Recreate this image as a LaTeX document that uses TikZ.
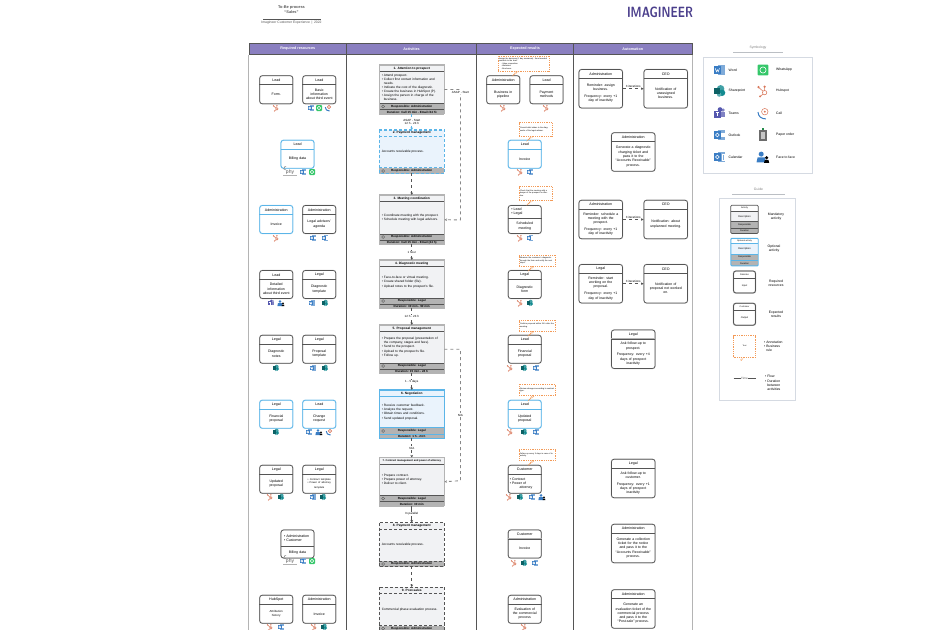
\documentclass[tikz,border=0pt]{standalone}
\usepackage{fontspec}
\setmainfont{Liberation Sans}
\usetikzlibrary{calc, positioning, arrows.meta}

\definecolor{lanepurple}{HTML}{8A7FC0}
\definecolor{logopurple}{HTML}{4B3F8C}
\definecolor{linedark}{HTML}{555555}
\definecolor{linegray}{HTML}{B4B4B4}
\definecolor{panelgray}{HTML}{D5DAE2}
\definecolor{bandgray}{HTML}{B3B3B3}
\definecolor{actfill}{HTML}{F1F2F4}
\definecolor{optblue}{HTML}{5BB5E8}
\definecolor{optfill}{HTML}{EAF3FC}
\definecolor{noteorange}{HTML}{F39A57}
\definecolor{wordblue}{HTML}{3A7DC4}
\definecolor{spteal}{HTML}{138A90}
\definecolor{hubcol}{HTML}{D9775A}
\definecolor{wagreen}{HTML}{35C76A}
\definecolor{teamcol}{HTML}{5558AF}

\tikzset{
    lanehead/.style={draw=linedark, fill=lanepurple, text=white, line width=.8pt, minimum height=11.5pt, inner sep=0pt, font=\fontsize{3.7}{4}\selectfont\bfseries},
    laneline/.style={draw=linedark, line width=.9pt},
    lanepale/.style={draw=linegray, line width=1.4pt},
    cardgray/.style={draw=linedark, line width=.7pt, preaction={draw=linegray, line width=1.3pt}},
    cardblue/.style={draw=optblue, line width=.8pt, preaction={draw=optblue!50!white, line width=1.4pt}},
    cardtitle/.style={inner sep=0pt, align=center, font=\fontsize{3.6}{4.2}\selectfont},
    cardtext/.style={inner sep=0pt, align=center, font=\fontsize{3.5}{4.3}\selectfont},
    actgray/.style={draw=linegray, line width=1.1pt},
    actblue/.style={draw=optblue, line width=1.1pt},
    actpay/.style={draw=optblue, line width=1.1pt, densely dashed},
    actdash/.style={draw=linedark, line width=.6pt, densely dashed},
    actgray fill/.style={fill=actfill},
    actblue fill/.style={fill=optfill},
    actpay fill/.style={fill=optfill},
    actdash fill/.style={fill=actfill},
    actgray sep/.style={draw=linedark, line width=.5pt},
    actblue sep/.style={draw=optblue, line width=.7pt},
    actpay sep/.style={draw=optblue, line width=.7pt, densely dashed},
    actdash sep/.style={draw=linedark, line width=.5pt, densely dashed},
    acttitle/.style={inner sep=0pt, minimum width=65pt, minimum height=6pt, font=\fontsize{3.2}{4}\selectfont\bfseries},
    acttext/.style={inner sep=0pt, text width=60pt, align=left, font=\fontsize{3.2}{4.1}\selectfont},
    actband/.style={inner sep=0pt, minimum width=65pt, fill=bandgray, font=\fontsize{3}{3.5}\selectfont\bfseries},
    flow/.style={draw=linedark, line width=.8pt, dashed, -{Stealth[length=2.6pt,width=2.6pt]}},
    flowside/.style={draw=linedark!70!white, line width=.9pt, dashed, -{Stealth[length=2.6pt,width=2.6pt]}},
    flowlabel/.style={fill=white, inner sep=.4pt, align=center, font=\fontsize{3}{3.8}\selectfont},
    notebox/.style={draw=noteorange, fill=white, line width=.8pt, densely dotted, inner sep=.8pt, align=left, font=\fontsize{2}{2.5}\selectfont},
    notetail/.style={draw=noteorange, line width=.8pt, densely dotted},
    panel/.style={draw=panelgray, line width=.9pt, fill=white},
    paneltitle/.style={text=gray, inner sep=0pt, font=\fontsize{3.4}{4}\selectfont},
    panellabel/.style={inner sep=0pt, align=center, font=\fontsize{3.4}{4.2}\selectfont},
    panelleft/.style={inner sep=0pt, align=left, font=\fontsize{3.4}{4.2}\selectfont},
    wordicon/.pic={
        \fill[wordblue!65!white] (-.8,-3) rectangle (3.2,3);
        \fill[wordblue] (-3.2,-2.2) rectangle (.8,2.2);
        \draw[white, line width=.45pt] (-2.4,-1) -- (-1.7,1) -- (-1.2,-.2) -- (-.7,1) -- (0,-1);},
    spicon/.pic={
        \fill[spteal!80!white] (.6,-1.2) circle (2.1);
        \fill[spteal] (1.4,1) circle (1.8);
        \fill[spteal!70!white] (-.2,2) circle (1.2);
        \fill[spteal!70!black] (-3,-1.6) rectangle (.4,1.6);},
    hubicon/.pic={
        \draw[hubcol, line width=.55pt] (.9,.9) circle (1.2);
        \draw[hubcol, line width=.55pt] (.9,-.3) -- (.9,-2) (0,.1) -- (-2.2,-1.8) (0,1.7) -- (-1.3,2.8);
        \fill[hubcol] (.9,-2.4) circle (.7) (-2.5,-2.1) circle (.7) (-1.6,3) circle (.6);},
    waicon/.pic={
        \fill[wagreen, rounded corners=1pt] (-3,-3) rectangle (3,3);
        \draw[white, line width=.6pt] (0,0) circle (1.7);},
    teamsicon/.pic={
        \fill[teamcol!75!white] (2,-1.9) circle (1);
        \fill[teamcol!75!white] (.4,-.8) rectangle (3.2,2);
        \fill[teamcol] (.3,-2.2) circle (1.3);
        \fill[teamcol] (-3.2,-1.6) rectangle (.8,2.4);
        \draw[white, line width=.5pt] (-2.2,-.7) -- (-.2,-.7) (-1.2,-.7) -- (-1.2,1.6);},
    callicon/.pic={
        \draw[wordblue, line width=1pt] (-2.8,-.8) .. controls (-2.6,1.6) and (-1,3) .. (1.6,3);
        \draw[hubcol, line width=.5pt, fill=white] (1,-1) circle (1.8);
        \fill[hubcol] (1,-1) circle (.6);},
    outicon/.pic={
        \fill[wordblue!65!white] (-.6,-2.8) rectangle (3.2,2.8);
        \fill[white] (.8,-1) rectangle (3,1);
        \fill[wordblue] (-3.2,-2.2) rectangle (.8,2.2);
        \draw[white, line width=.55pt] (-1.2,0) circle (1.05);},
    calicon/.pic={
        \fill[wordblue!65!white] (-.6,-3) rectangle (3.2,3);
        \fill[wordblue] (-3.2,-2.2) rectangle (.8,2.2);
        \draw[white, line width=.55pt] (-1.2,0) circle (1.05);
        \draw[white, line width=.4pt] (1.4,-1.6) rectangle (2.6,1.6);},
    papericon/.pic={
        \fill[gray!85!black] (-2,-3) rectangle (2,3.4);
        \fill[gray!45!white] (-1.2,-1.4) rectangle (1.2,2.4);
        \fill[wagreen!70!black] (-.8,-4) rectangle (.8,-3);},
    faceicon/.pic={
        \fill[wordblue] (-1,-1.6) circle (1.4);
        \fill[wordblue] (-3.6,3) -- (-3,.2) -- (1,.2) -- (1.6,3) -- cycle;
        \fill[black] (2,.4) circle (1);
        \fill[black] (.6,3.2) -- (1,1.6) -- (3,1.6) -- (3.4,3.2) -- cycle;},
}

% card with a title and a body
\newcommand{\cardcore}[9]{
    \node[#1, rounded corners=2.6pt, fill=white, minimum width=#5 pt, minimum height=#6 pt, inner sep=0pt] (#2) at (#3,#4) {};
    \node[cardtitle, anchor=north, minimum width=#5 pt, minimum height=#9 pt] (#2t) at (#2.north) {#7};
    \node[cardtext, text width=#5 pt - 3pt] (#2b) at ($(#2.center)+(0,#9/2)$) {#8};
    \draw[#1] (#2.west |- #2t.south) -- (#2.east |- #2t.south);
}
\newcommand{\rescard}[6][cardgray]{\cardcore{#1}{#2}{#3}{#4}{33}{28}{#5}{#6}{9}}
\newcommand{\autocard}[6][cardgray]{\cardcore{#1}{#2}{#3}{#4}{43.5}{38.5}{#5}{#6}{9}}

% activity with title, body, responsible and duration bands
\newcommand{\activity}[8][actgray]{
    \if\relax\detokenize{#8}\relax\def\acthigh{#5+12}\else\def\acthigh{#5+17}\fi
    \node[#1 fill, minimum width=65pt, minimum height={(\acthigh)*1pt}, inner sep=0pt, anchor=north] (#2) at (411.75,#3) {};
    \node[acttitle, anchor=north] (#2t) at (#2.north) {#4};
    \node[acttext, minimum height=#5 pt, below=0pt of #2t] (#2b) {#6};
    \node[actband, minimum height=6pt, below=0pt of #2b] (#2r) {#7};
    \draw[linedark, line width=.35pt] ([xshift=4pt]#2r.west) circle (1.5);
    \if\relax\detokenize{#8}\relax\else
        \node[actband, minimum height=5pt, below=0pt of #2r] (#2d) {#8};
        \draw[#1 sep] (#2r.south west) -- (#2r.south east);
    \fi
    \draw[#1 sep] (#2t.south west) -- (#2t.south east);
    \draw[#1 sep] (#2r.north west) -- (#2r.north east);
    \draw[#1] (#2.north west) rectangle (#2.south east);
}

% annotation with its small tail
\newcommand{\notecall}[6]{
    \node[notebox, minimum width=#4 pt, minimum height=#5 pt, text width=#4 pt - 2pt] (#1) at (#2,#3) {#6};
    \draw[notetail] ($(#1.south west)!0.36!(#1.south east)$) -- ++(-2.6,3.4) -- ++(5,-3.4);
}

\newcommand{\paylogo}[3]{
    \draw[gray, line width=.5pt] ($(#2,#3)+(-4,-2)$) arc (70:290:1.8);
    \node[inner sep=0pt, text=linedark, font=\fontsize{5}{5}\selectfont] (#1) at (#2,#3) {phy};
    \fill[gray!60!white] ($(#1.south)+(-7,.8)$) rectangle ($(#1.south)+(7,1.6)$);
}

\begin{document}
\begin{tikzpicture}[x=1pt, y=-1pt]
    \useasboundingbox (0,0) rectangle (936,629);

    % Heading
    \node[inner sep=0pt, align=center, text=linedark, font=\fontsize{3.9}{5.5}\selectfont\bfseries] (doctitle) at (291.5,9.5) {To-Be process\\``Sales''};
    \node[inner sep=0pt, text=linedark, font=\fontsize{3.4}{4}\selectfont] (docsub) at (291.5,22.5) {Imagineer Customer Experience\, |\, 2022};
    \draw[linedark, line width=.4pt] (docsub.north west) ++(2,-1.6) -- ++(58,0);
    \node[inner sep=0pt, text=logopurple] (logo) at (660,12.5) {\resizebox{66pt}{10.5pt}{\sffamily\bfseries IMAGINEER}};

    % Lanes
    \node[lanehead, minimum width=97.5pt] (laneres) at (297.75,48.75) {Required resources};
    \node[lanehead, minimum width=130pt] (laneact) at (411.5,48.75) {Activities};
    \node[lanehead, minimum width=97pt] (laneexp) at (525,48.75) {Expected results};
    \node[lanehead, minimum width=118.5pt] (laneaut) at (632.75,48.75) {Automation};
    \draw[lanepale] (laneres.south west) -- ++(0,590);
    \draw[laneline] (laneres.south east) -- ++(0,590);
    \draw[laneline] (laneact.south east) -- ++(0,590);
    \draw[laneline] (laneexp.south east) -- ++(0,590);
    \draw[lanepale] (laneaut.south east) -- ++(0,590);

    % Activities
    \activity{act1}{65}{1. Attention to prospect}{31.5}{%
        • Attend prospect.\\• Collect first contact information and\\\phantom{• }needs.\\• Indicate the cost of the diagnostic.\\• Create the business in HubSpot (P).\\• Assign the person in charge of the\\\phantom{• }business.}{Responsible: Administration}{Duration: Call 15 min - Email (24 h)}
    \activity[actpay]{act2}{130}{2. Payment management}{31}{\centering Accounts receivable process.}{Responsible: Administration}{}
    \activity{act3}{195}{3. Meeting coordination}{32}{%
        • Coordinate meeting with the prospect.\\• Schedule meeting with legal advisors.}{Responsible: Administration}{Duration: Call 15 min - Email (24 h)}
    \activity{act4}{260}{4. Diagnostic meeting}{31}{%
        • Face-to-face or virtual meeting.\\• Create shared folder (file).\\• Upload notes to the prospect's file.}{Responsible: Legal}{Duration: 30 min - 90 min}
    \activity{act5}{325}{5. Proposal management}{31}{%
        • Prepare the proposal (presentation of\\\phantom{• }the company, stages and fees).\\• Send to the prospect.\\• Upload to the prospect's file.\\• Follow up.}{Responsible: Legal}{Duration: 15 min - 24 h}
    \activity[actblue]{act6}{390}{6. Negotiation}{31}{%
        • Receive customer feedback.\\• Analyze the request.\\• Obtain times and conditions.\\• Send updated proposal.}{Responsible: Legal}{Duration: 1 h - 24 h}
    \activity{act7}{457.5}{\fontsize{2.6}{3}\selectfont 7. Contract management and power of attorney}{31}{%
        • Prepare contract.\\• Prepare power of attorney.\\• Deliver to client.}{Responsible: Legal}{Duration: 30 min}
    \activity[actdash]{act8}{522.5}{8. Payment management}{31.5}{\centering Accounts receivable process.}{Responsible: Administration}{}
    \activity[actdash]{act9}{587}{9. Post-sales}{31.5}{\centering Commercial phase evaluation process.}{Responsible: Administration}{}

    % Paths
    \draw[flow, draw=optblue] (act1.south) -- node[flowlabel] {ASAP - Start\\12 h - 24 h} (act2.north);
    \draw[flow] (act2.south) -- (act3.north);
    \draw[flow] (act3.south) -- node[flowlabel] {1 hour} (act4.north);
    \draw[flow] (act4.south) -- node[flowlabel] {12 h - 24 h} (act5.north);
    \draw[flow] (act5.south) -- node[flowlabel] {1 - 5 days} (act6.north);
    \draw[flow] (act6.south) -- node[flowlabel] {N/A} (act7.north);
    \draw[flow, solid] (act7.south) -- node[flowlabel] {In parallel} (act8.north);
    \draw[flow] (act8.south) -- (act9.north);
    \draw[flowside] (act1.east) -- ++(16,0) -- node[flowlabel, pos=.02] {ASAP - Start} ++(0,130.5) -- (act3.east);
    \draw[flowside] (act5.east) -- ++(16,0) -- node[flowlabel] {N/A} ++(0,131.5) -- (act7.east);

    % Required resources
    \rescard{res1}{276.25}{89.75}{Lead}{Form.}
    \rescard{res2}{319.25}{89.75}{Lead}{Basic\\information\\about third event}
    \rescard[cardblue]{res3}{297.5}{154.25}{Lead}{Billing data}
    \rescard[cardblue]{res4}{276.25}{219.5}{Administration}{Invoice}
    \rescard{res5}{319.25}{219.5}{Administration}{Legal advisors'\\agenda}
    \rescard{res6}{276.25}{284.5}{Lead}{Detailed\\information\\about third event}
    \rescard{res7}{319.25}{284.5}{Legal}{Diagnostic\\template}
    \rescard{res8}{276.25}{349.25}{Legal}{Diagnostic\\notes}
    \rescard{res9}{319.25}{349.25}{Legal}{Proposal\\template}
    \rescard[cardblue]{res10}{276.25}{414.25}{Legal}{Financial\\proposal}
    \rescard[cardblue]{res11}{319.25}{414.25}{Lead}{Change\\request}
    \rescard{res12}{276.25}{479.25}{Legal}{Updated\\proposal}
    \rescard{res13}{319.25}{479.25}{Legal}{\fontsize{2.6}{3.2}\selectfont • Contract template\\• Power of attorney\\template}
    \cardcore{cardgray}{res14}{297.5}{544}{33}{28}{\parbox{27pt}{• Administration\\• Customer}}{Billing data}{16.5}
    \rescard{res15}{276.25}{609.25}{HubSpot}{\fontsize{2.9}{3.6}\selectfont Attribution\\history}
    \rescard{res16}{319.25}{609.25}{Administration}{Invoice}

    % Expected results
    \rescard{exp1}{503.25}{89.75}{Administration}{Business in\\pipeline}
    \rescard{exp2}{546.5}{89.75}{Lead}{Payment\\methods}
    \rescard[cardblue]{exp3}{524.75}{154.25}{Lead}{Invoice}
    \cardcore{cardgray}{exp4}{524.75}{219.5}{33}{28}{\parbox{27pt}{• Lead\\• Legal}}{Scheduled\\meeting}{13}
    \rescard{exp5}{524.75}{284.5}{Legal}{Diagnostic\\form}
    \rescard{exp6}{524.75}{349.25}{Lead}{Financial\\proposal}
    \rescard[cardblue]{exp7}{524.75}{414.25}{Lead}{Updated\\proposal}
    \rescard{exp8}{524.75}{479.25}{Customer}{\raggedright • Contract\\• Power of\\\phantom{• }attorney}
    \rescard{exp9}{524.75}{544}{Customer}{Invoice}
    \rescard{exp10}{524.75}{609.25}{Administration}{Evaluation of\\the commercial\\process}

    % Annotations
    \notecall{note1}{523.5}{63.5}{51}{15}{Assign the business (1 day maximum). Send needed contents to the lead:\\\hspace{2pt}- Value proposition\\\hspace{2pt}- Webinars\\\hspace{2pt}- Brochures}
    \notecall{note2}{535.5}{129.25}{33}{13.5}{Consult debt status in the diagnostic of the legal advisor.}
    \notecall{note3}{535.5}{193.25}{33}{13.5}{Check that the meeting with a lawyer of the prospect is effective.}
    \notecall{note4}{537.25}{260.5}{36.5}{11}{Measure the customer's diagnostic through the form and notify the next steps.}
    \notecall{note5}{537.25}{325.5}{36.5}{11}{Confirm proposal within 24 h after the meeting.}
    \notecall{note6}{537.25}{390}{36.5}{11.5}{Review changes according to contract type.}
    \notecall{note7}{537.25}{455}{36.5}{10.5}{Follow up every 3 days in case of inactivity.}

    % Automation
    \autocard{aut1}{600.75}{88.75}{Administration}{Reminder: assign\\business.\\[2.5pt]Frequency: every +1\\day of inactivity}
    \autocard{aut2}{665.75}{88.75}{CEO}{Notification of\\unassigned\\business.}
    \autocard{aut3}{633.25}{152}{Administration}{Generate a diagnostic\\charging ticket and\\pass it to the\\``Accounts Receivable''\\process.}
    \autocard{aut4}{600.75}{219.5}{Administration}{Reminder: schedule a\\meeting with the\\prospect.\\[2.5pt]Frequency: every +1\\day of inactivity}
    \autocard{aut5}{665.75}{219.5}{CEO}{Notification: about\\unplanned meeting.}
    \autocard{aut6}{600.75}{283.75}{Legal}{Reminder: start\\working on the\\proposal.\\[2.5pt]Frequency: every +1\\day of inactivity}
    \autocard{aut7}{665.75}{283.75}{CEO}{Notification of\\proposal not worked\\on.}
    \autocard{aut8}{633.25}{349.25}{Legal}{Ask follow-up to\\prospect.\\[2.5pt]Frequency: every +4\\days of prospect\\inactivity}
    \autocard{aut9}{633.25}{478.5}{Legal}{Ask follow-up to\\customer.\\[2.5pt]Frequency: every +1\\days of prospect\\inactivity}
    \autocard{aut10}{633.25}{543.5}{Administration}{Generate a collection\\ticket for the notice\\and pass it to the\\``Accounts Receivable''\\process.}
    \autocard{aut11}{633.25}{609}{Administration}{Generate an\\evaluation ticket of the\\commercial process\\and pass it to the\\``Post-sale'' process.}
    \draw[flow] (aut1.east) -- node[flowlabel, fill=none, above=.3pt] {3 iterations} (aut2.west);
    \draw[flow] (aut4.east) -- node[flowlabel, fill=none, above=.3pt] {3 iterations} (aut5.west);
    \draw[flow] (aut6.east) -- node[flowlabel, fill=none, above=.3pt] {3 iterations} (aut7.west);

    % Tools under the cards
    \foreach \ico/\x/\y in {hubicon/276/108, outicon/311/108, waicon/319/108, callicon/328/108,
        outicon/303/172, waicon/312/172, hubicon/276/238, outicon/313/238, calicon/325/238,
        teamsicon/271/303, faceicon/281/303, wordicon/312/303, spicon/325/303,
        spicon/276/368, wordicon/313/368, spicon/325/368,
        spicon/276/432, outicon/309/432, faceicon/319/432, callicon/329/432,
        hubicon/270/497, spicon/281/497, wordicon/313/497, spicon/323/497,
        outicon/303/561, waicon/312/561, hubicon/270/627, outicon/281/627, hubicon/314/627, spicon/324/627,
        hubicon/503/108, hubicon/546/108, hubicon/520/172, outicon/530/172,
        hubicon/520/238, calicon/530/238, hubicon/520/303, spicon/530/303,
        hubicon/510/368, spicon/524/368, outicon/536/368, hubicon/510/432, spicon/524/432, outicon/536/432,
        hubicon/509/497, spicon/520/497, outicon/532/497, faceicon/542/497,
        hubicon/514/563, spicon/524/563, outicon/535/563, hubicon/524/627}
        {\pic at (\x,\y) {\ico};}
    \paylogo{pay1}{290}{172}
    \paylogo{pay2}{290}{561}

    % Symbology
    \node[paneltitle] (symtitle) at (758,48) {Symbology};
    \draw[panelgray!70!gray, line width=.6pt] (733,52.5) -- (783,52.5);
    \node[panel, minimum width=108.5pt, minimum height=116pt] (sympanel) at (757.75,115) {};
    \foreach \ico/\lab/\y in {wordicon/Word/70, spicon/Sharepoint/91, teamsicon/Teams/113.5, outicon/Outlook/135, calicon/Calendar/157}
        {\pic[scale=1.8] at (719.5,\y) {\ico};
         \node[panelleft, anchor=west] (sym\ico) at (728.5,\y) {\lab};}
    \foreach \ico/\lab/\y in {waicon/WhatsApp/70, hubicon/Hubspot/91, callicon/Call/113.5, papericon/Paper order/135, faceicon/Face to face/157}
        {\pic[scale=1.8] at (763,\y) {\ico};
         \node[panelleft, anchor=west] (sym\ico) at (776,\y) {\lab};}

    % Guide
    \node[paneltitle] (guidetitle) at (758.5,189.5) {Guide};
    \draw[panelgray!70!gray, line width=.6pt] (732,194) -- (785,194);
    \node[panel, minimum width=76pt, minimum height=202pt] (guidepanel) at (757.5,299) {};

    \node[inner sep=0pt, minimum width=27pt, minimum height=5.5pt, font=\fontsize{2.2}{3}\selectfont] (gact) at (744.5,208.25) {Activity};
    \node[inner sep=0pt, minimum width=27pt, minimum height=10pt, fill=actfill, font=\fontsize{2.5}{3}\selectfont, below=0pt of gact] (gdes) {Description};
    \node[actband, minimum width=27pt, minimum height=6pt, font=\fontsize{2.3}{3}\selectfont, below=0pt of gdes] (gres) {Responsible};
    \node[actband, minimum width=27pt, minimum height=5pt, font=\fontsize{2.3}{3}\selectfont, below=0pt of gres] (gdur) {Duration};
    \draw[linedark, line width=.5pt] (gact.south west) -- (gact.south east) (gdes.south west) -- (gdes.south east) (gres.south west) -- (gres.south east);
    \draw[linedark, line width=.8pt, rounded corners=1pt] (gact.north west) rectangle (gdur.south east);

    \node[inner sep=0pt, minimum width=27pt, minimum height=5pt, font=\fontsize{2.1}{3}\selectfont] (oact) at (744.5,241) {Optional activity};
    \node[inner sep=0pt, minimum width=27pt, minimum height=10pt, fill=optfill, font=\fontsize{2.5}{3}\selectfont, below=0pt of oact] (odes) {Description};
    \node[actband, minimum width=27pt, minimum height=6pt, font=\fontsize{2.3}{3}\selectfont, below=0pt of odes] (ores) {Responsible};
    \node[actband, minimum width=27pt, minimum height=5pt, font=\fontsize{2.3}{3}\selectfont, below=0pt of ores] (odur) {Duration};
    \draw[optblue, line width=.5pt] (oact.south west) -- (oact.south east) (odes.south west) -- (odes.south east) (ores.south west) -- (ores.south east);
    \draw[optblue, line width=.9pt, rounded corners=1pt] (oact.north west) rectangle (odur.south east);

    \node[cardgray, rounded corners=2.4pt, minimum width=22pt, minimum height=22pt, inner sep=0pt] (grole) at (744.5,282) {};
    \node[inner sep=0pt, font=\fontsize{2.2}{3}\selectfont] (groleb) at ($(grole.north)+(0,4)$) {Role/doc};
    \node[inner sep=0pt, font=\fontsize{2.4}{3}\selectfont] (grolec) at ($(grole.center)+(0,3.5)$) {Input};
    \draw[cardgray] ($(grole.north west)+(0,7.5)$) -- ($(grole.north east)+(0,7.5)$);
    \node[cardgray, rounded corners=2.4pt, minimum width=22pt, minimum height=22pt, inner sep=0pt] (gcus) at (744.5,314.25) {};
    \node[inner sep=0pt, font=\fontsize{2.2}{3}\selectfont] (gcusb) at ($(gcus.north)+(0,4)$) {Customer};
    \node[inner sep=0pt, font=\fontsize{2.4}{3}\selectfont] (gcusc) at ($(gcus.center)+(0,3.5)$) {Output};
    \draw[cardgray] ($(gcus.north west)+(0,7.5)$) -- ($(gcus.north east)+(0,7.5)$);

    \node[notebox, minimum width=22pt, minimum height=21.5pt, align=center] (gnote) at (744.5,346.25) {Text};
    \draw[notetail] ($(gnote.south west)!0.36!(gnote.south east)$) -- ++(-.5,3.4) -- ++(3,-3.4);

    \coordinate (gflowa) at (733.5,378.5);
    \coordinate (gflowb) at (755.5,378.5);
    \draw[linedark, line width=1.1pt] (gflowa) -- node[flowlabel] {Time} (gflowb);

    \node[panellabel] (glab1) at (776,216.5) {Mandatory\\activity};
    \node[panellabel] (glab2) at (774,249) {Optional\\activity};
    \node[panellabel] (glab3) at (776,283) {Required\\resources};
    \node[panellabel] (glab4) at (776,314) {Expected\\results};
    \node[panelleft, anchor=west] (glab5) at (764,346) {• Annotation\\• Business\\\phantom{• }rule};
    \node[panelleft, anchor=west] (glab6) at (765,383) {• Flow\\• Duration\\\phantom{• }between\\\phantom{• }activities};
\end{tikzpicture}
\end{document}
